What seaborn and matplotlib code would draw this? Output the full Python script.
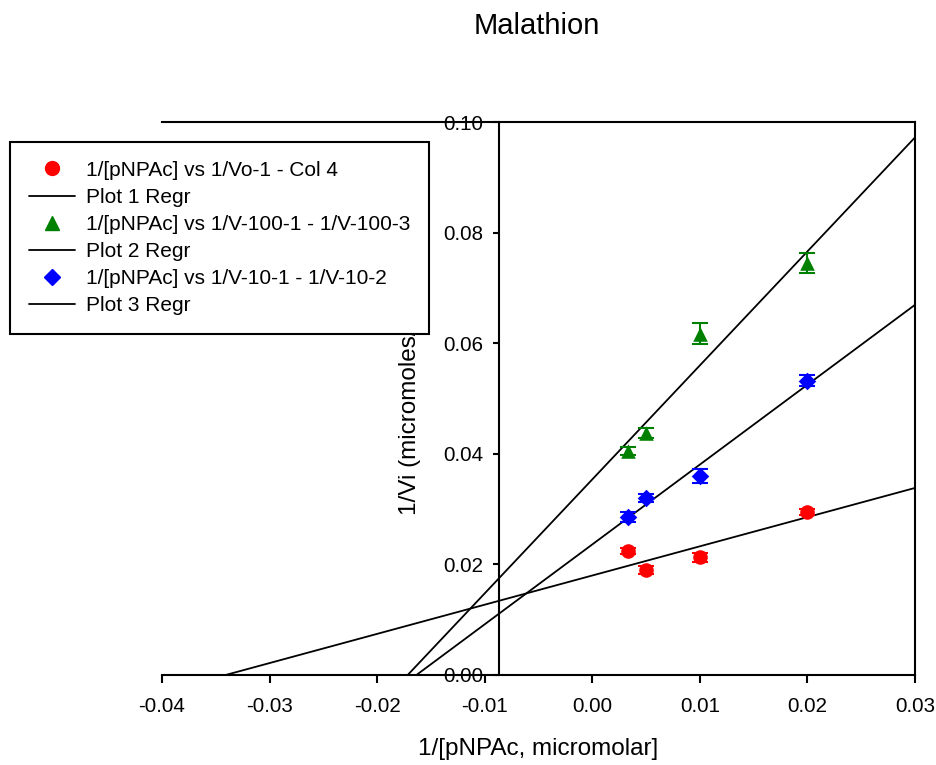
import numpy as np
import matplotlib
matplotlib.use('Agg')
import matplotlib.pyplot as plt
from matplotlib.ticker import FormatStrFormatter
import seaborn as sns

# x = 1/[pNPAc]
inv_s = [0.00333, 0.005, 0.01, 0.02]

# 1/Vi for each series, with error bars
v_col4 = [0.0224, 0.0190, 0.0213, 0.0295]
v_col4_err = [0.0006, 0.0007, 0.0008, 0.0006]
v_100 = [0.0405, 0.0438, 0.0617, 0.0745]
v_100_err = [0.0008, 0.0009, 0.0019, 0.0018]
v_10 = [0.0286, 0.0320, 0.0360, 0.0532]
v_10_err = [0.0009, 0.0008, 0.0012, 0.0010]

labels = ['1/[pNPAc] vs 1/Vo-1 - Col 4',
          '1/[pNPAc] vs 1/V-100-1 - 1/V-100-3',
          '1/[pNPAc] vs 1/V-10-1 - 1/V-10-2']
regr_labels = ['Plot 1 Regr', 'Plot 2 Regr', 'Plot 3 Regr']
colors = ['#ff0000', '#008000', '#0000ff']
markers = ['o', '^', 'D']
sizes = [110, 110, 80]

xticks = [-0.04, -0.03, -0.02, -0.01, 0.00, 0.01, 0.02, 0.03]
yticks = [0.00, 0.02, 0.04, 0.06, 0.08, 0.10]

sns.set_style('ticks')
plt.rcParams['font.family'] = ['Liberation Sans', 'DejaVu Sans']
plt.rcParams['text.color'] = 'black'
plt.rcParams['axes.labelcolor'] = 'black'
plt.rcParams['xtick.color'] = 'black'
plt.rcParams['ytick.color'] = 'black'

fig = plt.figure(figsize=(9.37, 7.65), dpi=100)
ax = fig.add_axes([162/937, 1-675/765, (915-162)/937, (675-122)/765])
ax.set_xlim(xticks[0], xticks[-1])
ax.set_ylim(yticks[0], yticks[-1])

series = [(v_col4, v_col4_err), (v_100, v_100_err), (v_10, v_10_err)]
xfit = np.linspace(xticks[0], xticks[-1], 50)
handles = []
for i, (y, err) in enumerate(series):
    ax.errorbar(inv_s, y, yerr=err, fmt='none', ecolor=colors[i],
                elinewidth=1.5, capsize=5.5, capthick=1.5, zorder=3)
    sns.scatterplot(x=inv_s, y=y, color=colors[i], marker=markers[i], s=sizes[i],
                    edgecolor=colors[i], linewidth=0, ax=ax, zorder=4)
    slope, icpt = np.polyfit(inv_s, y, 1)
    ln, = ax.plot(xfit, slope * xfit + icpt, color='black', lw=1.3, zorder=2)
    pt, = ax.plot([], [], ls='none', marker=markers[i], color=colors[i],
                  markersize=10 if markers[i] != 'D' else 8.5)
    handles += [pt, ln]

all_labels = [labels[0], regr_labels[0], labels[1], regr_labels[1], labels[2], regr_labels[2]]

# axis styling: y axis sits inside the plot, box elsewhere
ax.spines['left'].set_position(('data', -0.0087))
for s in ax.spines.values():
    s.set_linewidth(1.5)
    s.set_color('black')
ax.set_xticks(xticks)
ax.set_yticks(yticks)
ax.xaxis.set_major_formatter(FormatStrFormatter('%.2f'))
ax.yaxis.set_major_formatter(FormatStrFormatter('%.2f'))
ax.tick_params(axis='both', labelsize=14.8, width=1.5, color='black')
ax.tick_params(axis='x', length=6, pad=10)
ax.tick_params(axis='y', length=4.3, pad=7)

ax.set_xlabel('1/[pNPAc, micromolar]', fontsize=17.5, labelpad=16)
ax.set_ylabel('1/Vi (micromoles/min)', fontsize=17.5)
ax.yaxis.set_label_coords(0.344, 0.5)
fig.text(537/937, 1-25.5/765, 'Malathion', fontsize=21, ha='center', va='center')

leg = ax.legend(handles, all_labels, loc='upper left',
                bbox_to_anchor=(10/937, 1-142/765), bbox_transform=fig.transFigure,
                borderaxespad=0, fontsize=15, frameon=True, fancybox=False,
                framealpha=1, edgecolor='black', handlelength=2.2,
                handletextpad=0.55, labelspacing=0.39, borderpad=0.9)
leg.get_frame().set_linewidth(1.5)
leg.set_zorder(10)

fig.savefig('out.png', dpi=100)
